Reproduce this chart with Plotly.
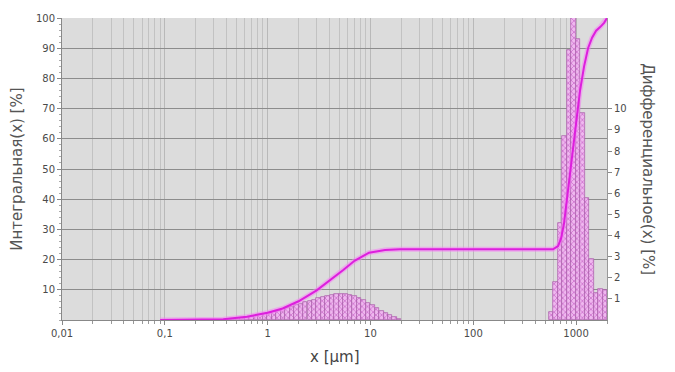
import numpy as np
import plotly.graph_objects as go

# ---- data ----
# differential distribution: size-class centres [µm] and % per class
diff_size_um = [0.383, 0.424, 0.468, 0.518, 0.572, 0.632, 0.699, 0.773, 0.854, 0.944,
                1.043, 1.153, 1.27, 1.41, 1.56, 1.72, 1.90, 2.10, 2.32, 2.57,
                2.84, 3.14, 3.47, 3.83, 4.24, 4.68, 5.18, 5.72, 6.32, 6.99,
                7.73, 8.54, 9.44, 10.43, 11.53, 12.75, 14.09, 15.57, 17.2, 19.0,
                574, 634, 700, 774, 856, 946, 1045, 1155, 1276, 1410, 1558, 1722, 1903]
diff_pct = [0.02, 0.04, 0.06, 0.08, 0.10, 0.12, 0.15, 0.18, 0.22, 0.27,
            0.33, 0.38, 0.44, 0.50, 0.56, 0.62, 0.69, 0.76, 0.83, 0.90,
            0.97, 1.03, 1.09, 1.14, 1.18, 1.21, 1.22, 1.21, 1.18, 1.12,
            1.04, 0.94, 0.82, 0.70, 0.57, 0.45, 0.33, 0.22, 0.13, 0.06,
            0.4, 1.8, 4.6, 8.7, 12.8, 15.5, 13.3, 9.8, 5.8, 2.9, 1.3, 1.45, 1.4]
class_ratio = 1.105  # size ratio between neighbouring classes

# integral (cumulative) distribution
cum_size_um = [0.09, 0.2, 0.37, 0.63, 1.0, 1.4, 2.0, 3.0, 4.0, 5.4, 7.0, 9.7, 13.9, 19.4,
               100, 597, 668, 715, 764, 817, 874, 935, 1000, 1094, 1197, 1309, 1432,
               1567, 1714, 1873, 2000]
cum_pct = [0, 0.05, 0.25, 1.1, 2.4, 3.8, 6.2, 9.8, 13.0, 16.5, 19.6, 22.3, 23.2, 23.4,
           23.4, 23.4, 24.5, 27, 32, 40, 49, 58, 66, 76, 84, 90, 93.5,
           95.8, 97, 98.4, 100]

x_tick_vals = [0.01, 0.1, 1, 10, 100, 1000]
x_tick_text = ["0,01", "0,1", "1", "10", "100", "1000"]
left_ticks = [10, 20, 30, 40, 50, 60, 70, 80, 90, 100]
right_ticks = [1, 2, 3, 4, 5, 6, 7, 8, 9, 10]

x_min, x_max = 0.01, 2000
right_max = 14.3

# ---- figure ----
font_family = "DejaVu Sans, Verdana, sans-serif"
lbl = "#4a4a4a"
xr = [np.log10(x_min), np.log10(x_max)]

fig = go.Figure()

fig.add_trace(go.Bar(
    x=np.log10(diff_size_um), y=diff_pct,
    width=np.log10(class_ratio),
    xaxis="x", yaxis="y",
    marker=dict(color="#efb8ef",
                line=dict(color="#a85aa8", width=0.7),
                pattern=dict(shape="x", fgcolor="#b43cb4", size=4, solidity=0.4)),
    showlegend=False, hoverinfo="skip",
))

fig.add_trace(go.Scatter(
    x=cum_size_um, y=cum_pct, xaxis="x2", yaxis="y2", mode="lines",
    line=dict(color="rgba(245,130,245,0.55)", width=5),
    showlegend=False, hoverinfo="skip",
))
fig.add_trace(go.Scatter(
    x=cum_size_um, y=cum_pct, xaxis="x2", yaxis="y2", mode="lines",
    line=dict(color="#dd1fdd", width=2),
    showlegend=False,
))

fig.update_layout(
    width=675, height=372,
    margin=dict(l=62, r=68, t=14, b=52),
    paper_bgcolor="white", plot_bgcolor="#dcdcdc",
    font=dict(family=font_family, size=10, color=lbl),
    bargap=0,
    xaxis=dict(type="linear", range=xr, visible=False, showgrid=False, fixedrange=True),
    yaxis=dict(side="right", range=[0, right_max], tickvals=right_ticks,
               showgrid=False, zeroline=False, ticks="outside", ticklen=4,
               tickcolor="#888", showline=True, linecolor="#999", linewidth=1,
               tickfont=dict(size=10, color=lbl)),
    xaxis2=dict(type="log", range=xr, overlaying="x", side="bottom",
                tickvals=x_tick_vals, ticktext=x_tick_text,
                showgrid=True, gridcolor="#b9b9b9", gridwidth=1,
                ticks="outside", ticklen=4, tickcolor="#888",
                showline=True, linecolor="#888", linewidth=1,
                minor=dict(dtick="D1", showgrid=True, gridcolor="#c2c2c2", gridwidth=1,
                           ticks="outside", ticklen=3, tickcolor="#999"),
                tickfont=dict(size=10, color=lbl)),
    yaxis2=dict(side="left", overlaying="y", range=[0, 100], tickvals=left_ticks,
                showgrid=True, gridcolor="#8c8c8c", gridwidth=1, zeroline=False,
                ticks="outside", ticklen=4, tickcolor="#888",
                showline=True, linecolor="#888", linewidth=1,
                minor=dict(dtick=2, ticks="outside", ticklen=2, tickcolor="#aaa"),
                tickfont=dict(size=10, color=lbl)),
)

fig.add_annotation(text="x [µm]", xref="paper", yref="paper", x=0.5, y=-0.121,
                   showarrow=False, yanchor="middle",
                   font=dict(size=15, color="#444", family=font_family))
fig.add_annotation(text="Интегральная(x) [%]", xref="paper", yref="paper",
                   x=-0.083, y=0.5, textangle=-90, xanchor="center", showarrow=False,
                   font=dict(size=15, color="#555", family=font_family))
fig.add_annotation(text="Дифференциальное(x) [%]", xref="paper", yref="paper",
                   x=1.075, y=0.5, textangle=90, xanchor="center", showarrow=False,
                   font=dict(size=15, color="#555", family=font_family))

fig.write_html("out.html", config={"displayModeBar": False},
               post_script="document.body.style.margin='0';")
